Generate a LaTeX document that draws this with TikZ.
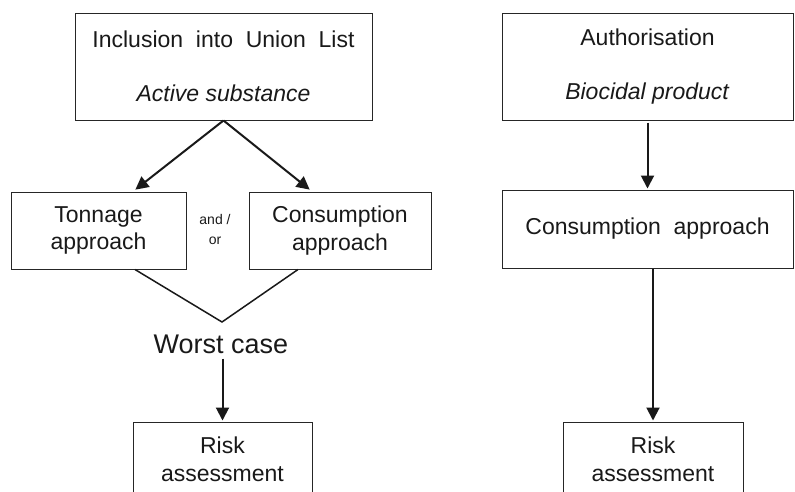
\documentclass[tikz,border=0pt]{standalone}
\usepackage{fontspec}
\setmainfont{Liberation Sans}
\usetikzlibrary{arrows.meta,calc}
\begin{document}
\begin{tikzpicture}[x=1pt,y=-1pt,
  box/.style={draw=black!85, line width=1pt, inner sep=0pt, align=center,
    text=black!90, font=\fontsize{23}{27.6}\selectfont},
  arr/.style={line width=2pt, draw=black!90, -{Triangle[length=13pt,width=13pt]}},
  plain/.style={line width=1.5pt, draw=black!90},
]
\useasboundingbox (0,0) rectangle (795,491);
\clip (0,0) rectangle (795,491);

% left column
\node[box, minimum width=297pt, minimum height=107pt] (incl) at (223.5,66.5)
  {Inclusion~ into~ Union~ List\\[26pt]\textit{Active substance}};
\node[box, minimum width=175pt, minimum height=77pt] (ton) at (98.5,230.5)
  {Tonnage\\approach};
\node[box, minimum width=182pt, minimum height=77pt] (cons) at (340,230.5)
  {Consumption\\approach};
\node[align=center, inner sep=0pt, text=black!90,
  font=\fontsize{14}{20}\selectfont] (andor) at (215,229) {and /\\or};
\coordinate (V) at (222,322);
\node[inner sep=0pt, text=black!90, font=\fontsize{27}{32}\selectfont] (worst) at (221,344) {Worst case};
\node[box, minimum width=179pt, minimum height=74pt] (risk1) at (222.5,459)
  {Risk\\assessment};

% right column
\node[box, minimum width=291pt, minimum height=107pt] (auth) at (647.5,66.5)
  {Authorisation\\[26pt]\textit{Biocidal product}};
\node[box, minimum width=291pt, minimum height=78pt] (cons2) at (647.5,229)
  {Consumption~ approach};
\node[box, minimum width=180pt, minimum height=74pt] (risk2) at (653,459)
  {Risk\\assessment};

% connectors
\draw[arr, shorten >=3pt] (incl.south) -- ([xshift=34.5pt]ton.north);
\draw[arr, shorten >=3pt] (incl.south) -- ([xshift=-28pt]cons.north);
\draw[plain] ([xshift=36.5pt]ton.south) -- (V) -- ([xshift=-42pt]cons.south);
\draw[arr, shorten <=5pt, shorten >=1pt] (worst.south -| risk1.north) -- (risk1.north);
\draw[arr, shorten <=2pt, shorten >=1pt] (auth.south) -- (cons2.north);
\draw[arr, shorten >=1pt] (cons2.south -| risk2.north) -- (risk2.north);
\end{tikzpicture}
\end{document}
